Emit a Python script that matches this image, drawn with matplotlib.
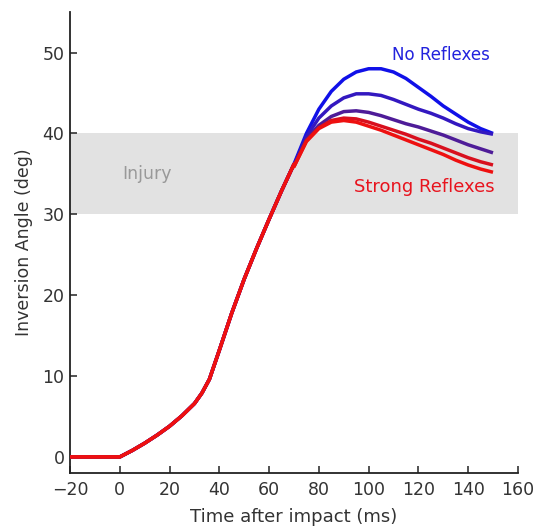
import matplotlib
matplotlib.use('Agg')
import matplotlib.pyplot as plt

# --- Data ---
# shared rise before the curves split (ms, deg)
t_common = [-20, 0, 5, 10, 15, 20, 25, 30, 33, 36, 40, 45, 50, 55, 60, 65, 70]
y_common = [0, 0, 0.8, 1.7, 2.7, 3.8, 5.1, 6.6, 7.9, 9.6, 13.2, 17.8, 22.0, 25.8, 29.4, 32.9, 36.2]

# after the split
t_split = [70, 75, 80, 85, 90, 95, 100, 105, 110, 115, 120, 125, 130, 135, 140, 145, 150]
y_none = [36.2, 40.0, 43.0, 45.2, 46.7, 47.6, 48.0, 48.0, 47.6, 46.8, 45.7, 44.6, 43.4, 42.4, 41.4, 40.6, 40.0]
y_weak = [36.1, 39.6, 41.9, 43.4, 44.4, 44.9, 44.9, 44.7, 44.2, 43.6, 43.0, 42.5, 41.9, 41.2, 40.6, 40.2, 39.9]
y_mid = [36.0, 39.3, 41.0, 42.1, 42.7, 42.8, 42.6, 42.2, 41.7, 41.2, 40.8, 40.3, 39.8, 39.2, 38.6, 38.1, 37.6]
y_high = [35.9, 39.1, 40.7, 41.6, 41.9, 41.8, 41.4, 40.9, 40.4, 39.9, 39.3, 38.8, 38.2, 37.6, 37.0, 36.5, 36.1]
y_strong = [35.9, 39.0, 40.6, 41.4, 41.6, 41.4, 40.9, 40.4, 39.8, 39.2, 38.6, 38.0, 37.4, 36.7, 36.1, 35.6, 35.2]

series = [y_none, y_weak, y_mid, y_high, y_strong]
colors = ['#1010e8', '#3318c0', '#4e1c98', '#d8101e', '#ee1010']

injury_lo, injury_hi = 30, 40

fig = plt.figure(figsize=(5.35, 5.28), dpi=100)
ax = fig.add_axes([0.131, 0.104, 0.837, 0.873])

ax.axhspan(injury_lo, injury_hi, color='#e2e2e2', lw=0, zorder=0)
ax.text(0.8, 35, 'Injury', color='#999999', fontsize=12.5, va='center', ha='left')

for ys, c in zip(series, colors):
    ax.plot(t_common + t_split, y_common + ys, color=c, lw=2.5,
            solid_capstyle='butt', solid_joinstyle='round', zorder=3)

ax.text(129, 49.7, 'No Reflexes', color='#2222dd', fontsize=12, ha='center', va='center')
ax.text(122.5, 33.4, 'Strong Reflexes', color='#e8141e', fontsize=13, ha='center', va='center')

ax.set_xlim(-20, 160)
ax.set_ylim(-2, 55)
ax.set_xticks(range(-20, 161, 20))
ax.set_yticks(range(0, 51, 10))
ax.set_xlabel('Time after impact (ms)', fontsize=13, color='#333333', labelpad=6)
ax.set_ylabel('Inversion Angle (deg)', fontsize=12.5, color='#333333', labelpad=7)

for side in ['top', 'right']:
    ax.spines[side].set_visible(False)
for side in ['left', 'bottom']:
    ax.spines[side].set_color('#222222')
    ax.spines[side].set_linewidth(1.3)
ax.tick_params(direction='in', length=5, width=1.1, color='#222222',
               labelsize=12.5, labelcolor='#333333')
ax.tick_params(axis='y', pad=4)
ax.tick_params(axis='x', pad=6)

fig.savefig('out.png', dpi=100)
